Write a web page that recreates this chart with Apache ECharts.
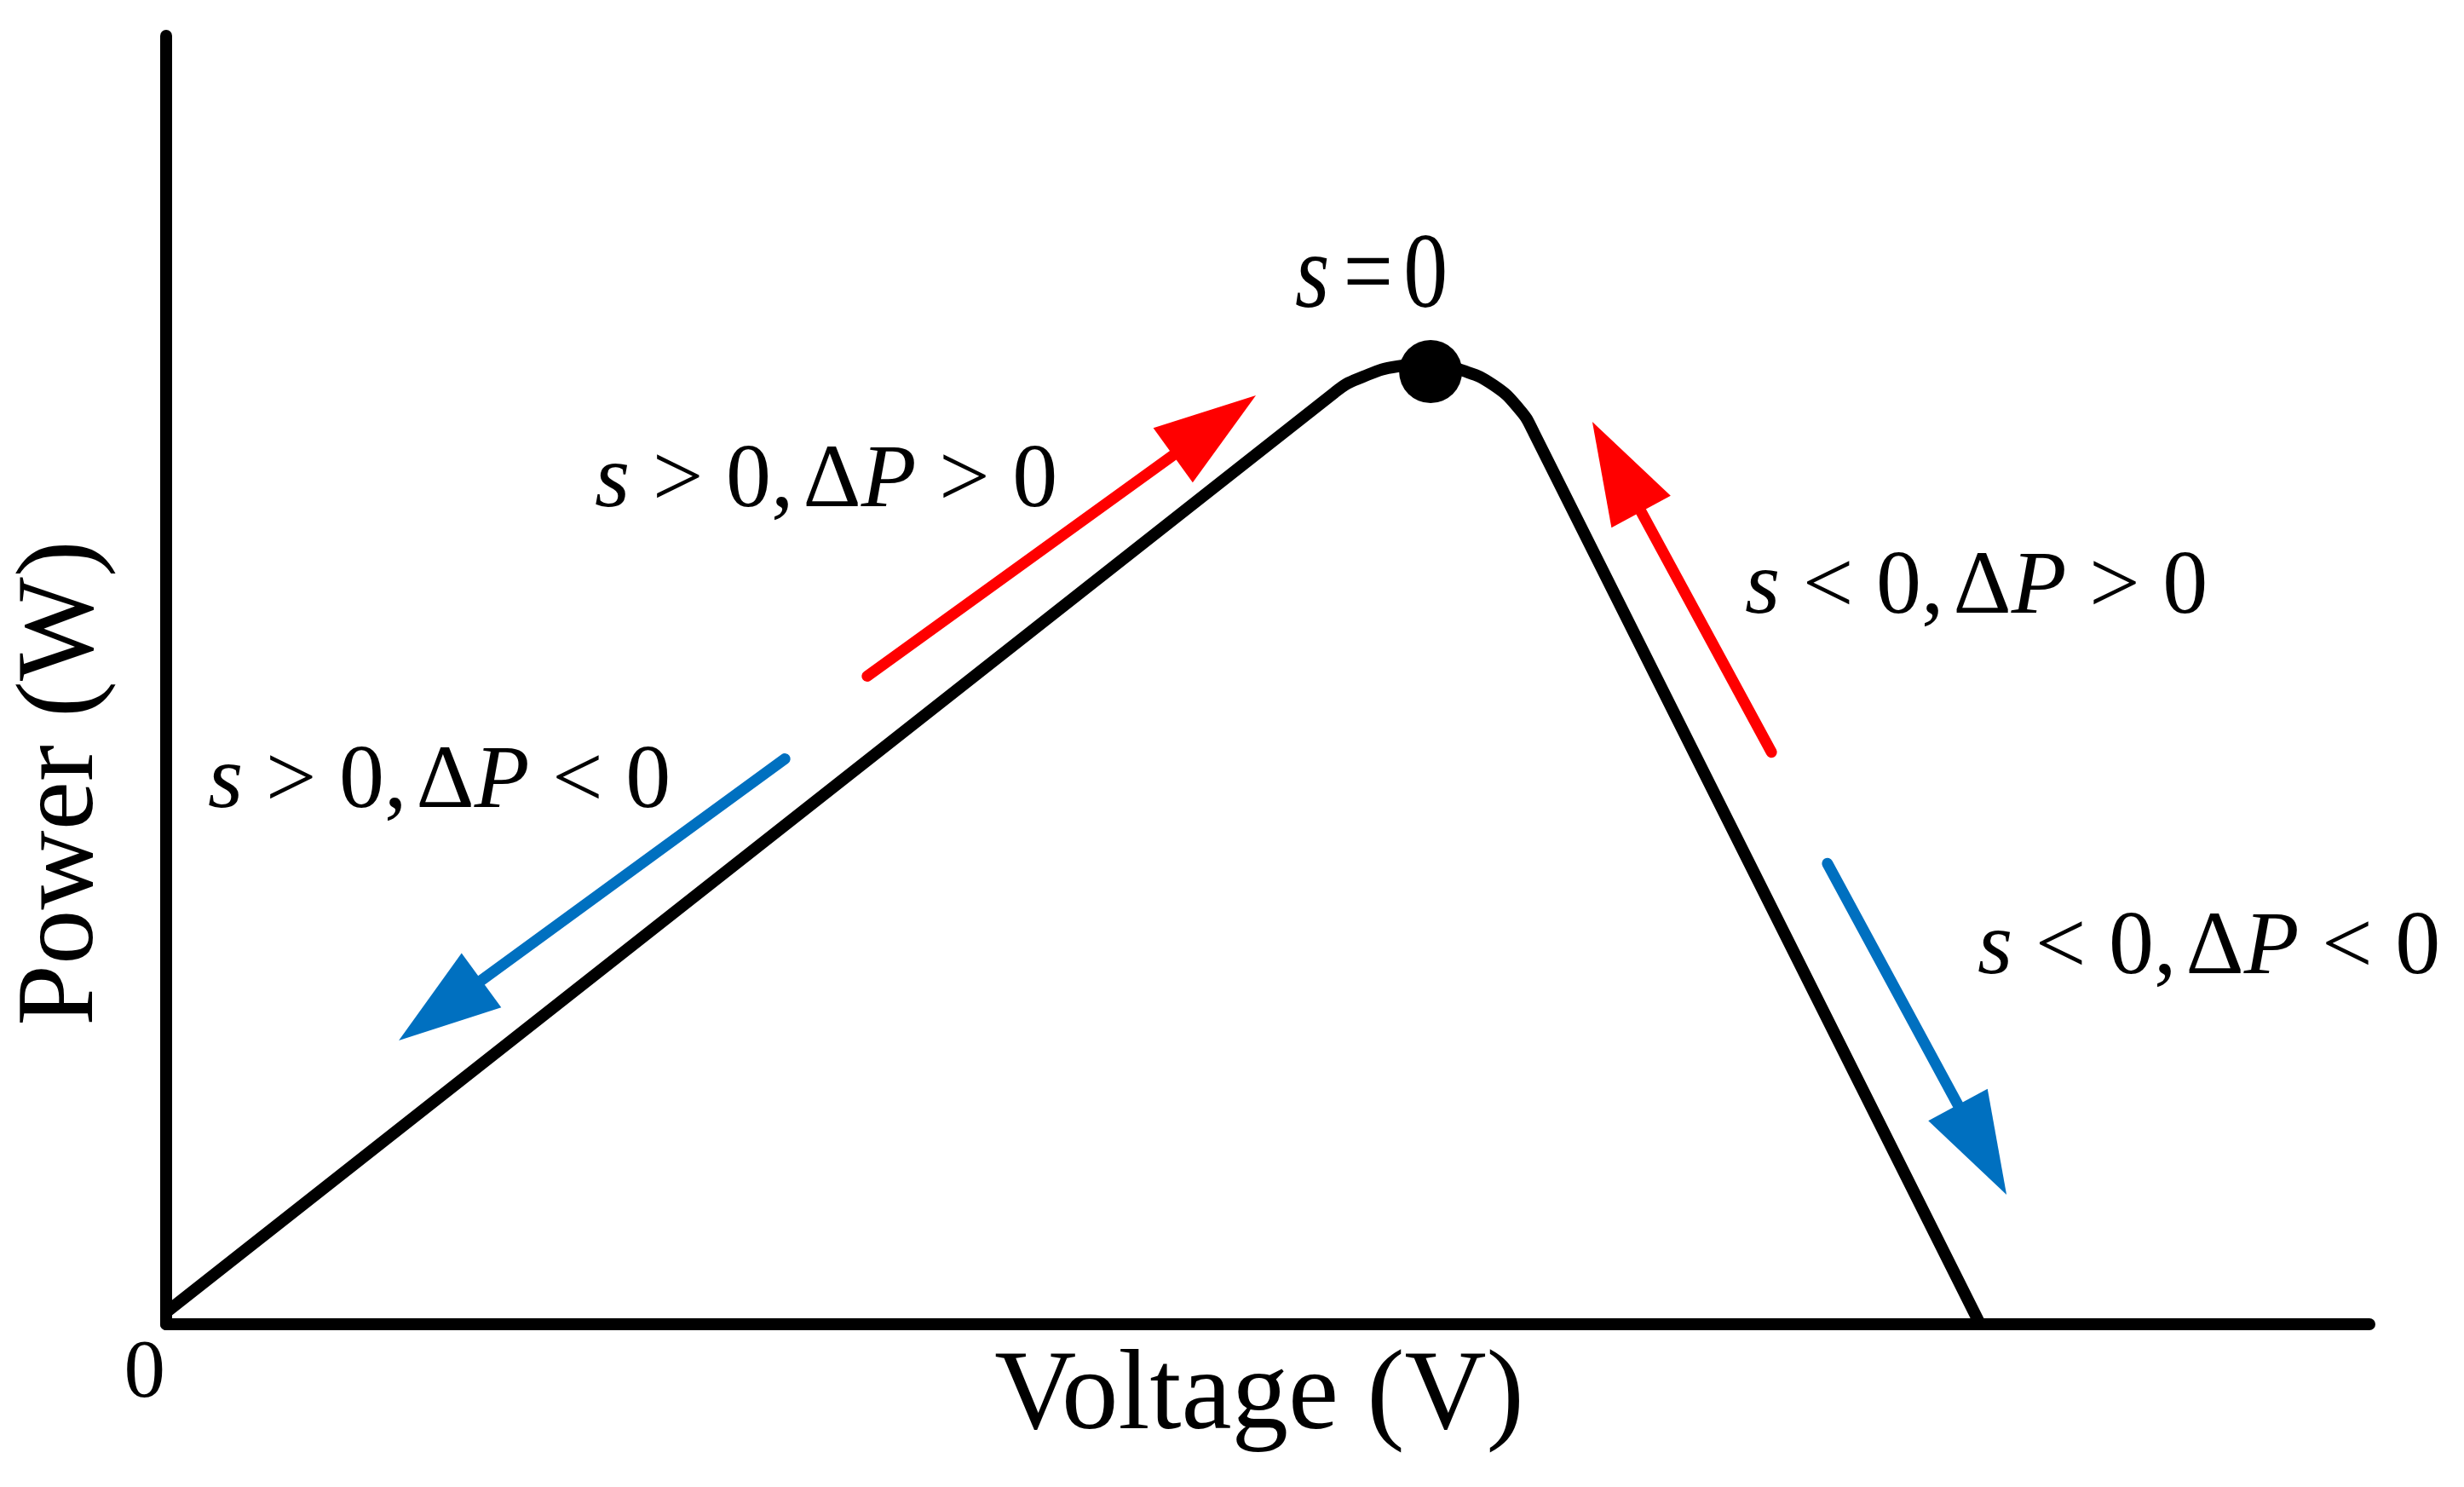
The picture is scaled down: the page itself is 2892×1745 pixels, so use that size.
<!DOCTYPE html>
<html>
<head>
<meta charset="utf-8">
<title>P-V curve</title>
<script src="https://cdn.jsdelivr.net/npm/echarts@6/dist/echarts.min.js"></script>
<style>
  html, body { margin: 0; padding: 0; background: #fff; }
  #chart { width: 2892px; height: 1745px; }
</style>
</head>
<body>
<div id="chart"></div>
<script>
// P-V curve (arbitrary units, 0..100 on both axes)
const curveX = [0, 53.06, 54.33, 55.88, 57.39, 58.86, 60.25, 61.41, 62.06, 82.33];
const curveY = [0.93, 72.35, 73.54, 74.34, 74.54, 74.01, 72.88, 71.03, 69.25, 0];
// operating point s = 0
const peakPoint = [57.39, 73.94];
// arrows: [tailX, tailY, tipX, tipY]
const redArrows = [
  [31.63, 50.07, 49.46, 72.09],
  [72.97, 44.05, 64.73, 70.04]
];
const blueArrows = [
  [28.27, 44.11, 10.56, 22.02],
  [75.29, 36.11, 83.53, 10.05]
];
const xTicks = [0];

const FONT = '"Liberation Serif", "Times New Roman", serif';
const HEAD_LEN = 120;
const HEAD_W = 79;

let chart = echarts.init(document.getElementById('chart'));

function arrowItem(params, api) {
  const p0 = api.coord([api.value(0), api.value(1)]);
  const p1 = api.coord([api.value(2), api.value(3)]);
  const dx = p1[0] - p0[0], dy = p1[1] - p0[1];
  const len = Math.sqrt(dx * dx + dy * dy);
  const ux = dx / len, uy = dy / len;
  const nx = -uy, ny = ux;
  const bx = p1[0] - ux * HEAD_LEN, by = p1[1] - uy * HEAD_LEN;
  const color = api.visual('color');
  return {
    type: 'group',
    children: [
      {
        type: 'line',
        shape: { x1: p0[0] + ux * 6, y1: p0[1] + uy * 6, x2: bx + ux * 4, y2: by + uy * 4 },
        style: { stroke: color, lineWidth: 13, lineCap: 'round' }
      },
      {
        type: 'polygon',
        shape: { points: [
          [p1[0], p1[1]],
          [bx + nx * HEAD_W / 2, by + ny * HEAD_W / 2],
          [bx - nx * HEAD_W / 2, by - ny * HEAD_W / 2]
        ] },
        style: { fill: color }
      }
    ]
  };
}

const rich = {
  i: { fontFamily: FONT, fontSize: 106, fontStyle: 'italic', lineHeight: 106, fill: '#000' },
  d: { fontFamily: FONT, fontSize: 106, lineHeight: 106, fill: '#000', padding: [0, 0, 0, 11] }
};

function mathText(x, y, text) {
  return {
    type: 'text',
    x: x,
    y: y,
    style: {
      text: text,
      fontFamily: FONT,
      fontSize: 106,
      lineHeight: 106,
      fill: '#000',
      align: 'left', textAlign: 'left',
      verticalAlign: 'middle', textVerticalAlign: 'middle',
      rich: rich
    }
  };
}

chart.setOption({
  animation: false,
  backgroundColor: '#fff',
  grid: { left: 195, right: 111, top: 42, bottom: 191 },
  xAxis: {
    type: 'value',
    min: 0,
    max: 100,
    interval: 100,
    axisLine: { show: true, lineStyle: { color: '#000', width: 14, cap: 'round' } },
    axisTick: { show: false },
    splitLine: { show: false },
    axisLabel: {
      show: true,
      color: '#000',
      fontFamily: FONT,
      fontSize: 97,
      lineHeight: 97,
      align: 'right',
      padding: [0, 1, 0, 0],
      margin: 11,
      showMaxLabel: false,
      formatter: function (v) { return xTicks.indexOf(v) >= 0 ? String(v) : ''; }
    }
  },
  yAxis: {
    type: 'value',
    min: 0,
    max: 100,
    axisLine: { show: true, lineStyle: { color: '#000', width: 14, cap: 'round' } },
    axisTick: { show: false },
    splitLine: { show: false },
    axisLabel: { show: false }
  },
  graphic: [
    {
      type: 'text',
      x: 1478,
      y: 1641,
      style: {
        text: 'Voltage (V)', fontFamily: FONT, fontSize: 133, lineHeight: 133, fill: '#000',
        align: 'center', textAlign: 'center', verticalAlign: 'middle', textVerticalAlign: 'middle'
      }
    },
    {
      type: 'text',
      x: 74,
      y: 919,
      rotation: Math.PI / 2,
      style: {
        text: 'Power (W)', fontFamily: FONT, fontSize: 129, lineHeight: 129, fill: '#000',
        align: 'center', textAlign: 'center', verticalAlign: 'middle', textVerticalAlign: 'middle'
      }
    },
    {
      type: 'text',
      x: 1520,
      y: 327,
      scaleY: 1.2,
      style: {
        text: '{i|s}{e|=}0',
        fontFamily: FONT, fontSize: 104, lineHeight: 104, fill: '#000',
        align: 'left', textAlign: 'left', verticalAlign: 'middle', textVerticalAlign: 'middle',
        rich: {
          i: { fontFamily: FONT, fontSize: 104, fontStyle: 'italic', lineHeight: 104, fill: '#000' },
          e: { fontFamily: FONT, fontSize: 104, lineHeight: 104, fill: '#000', padding: [0, 12, 0, 16] }
        }
      }
    },
    mathText(698, 566, '{i|s} > 0,{d|Δ}{i|P} > 0'),
    mathText(2048, 691, '{i|s} < 0,{d|Δ}{i|P} > 0'),
    mathText(244, 919, '{i|s} > 0,{d|Δ}{i|P} < 0'),
    mathText(2321, 1114, '{i|s} < 0,{d|Δ}{i|P} < 0')
  ],
  series: [
    {
      type: 'line',
      data: curveX.map((x, i) => [x, curveY[i]]),
      showSymbol: false,
      symbol: 'none',
      smooth: 0.5,
      lineStyle: { color: '#000', width: 14, cap: 'round', join: 'round' },
      z: 3
    },
    {
      type: 'scatter',
      data: [peakPoint],
      symbolSize: 74,
      itemStyle: { color: '#000', opacity: 1 },
      z: 4
    },
    {
      type: 'custom',
      renderItem: arrowItem,
      data: redArrows,
      encode: { x: [0, 2], y: [1, 3] },
      itemStyle: { color: '#FF0000' },
      z: 5
    },
    {
      type: 'custom',
      renderItem: arrowItem,
      data: blueArrows,
      encode: { x: [0, 2], y: [1, 3] },
      itemStyle: { color: '#0070C0' },
      z: 5
    }
  ]
});
</script>
</body>
</html>
